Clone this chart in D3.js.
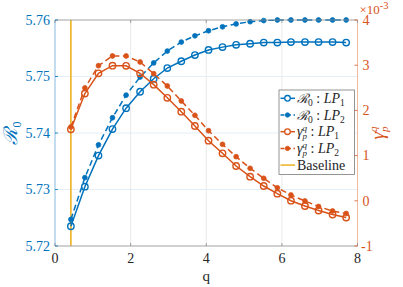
<!DOCTYPE html>
<html><head><meta charset="utf-8">
<script src="https://cdn.jsdelivr.net/npm/d3@7"></script>
<style>html,body{margin:0;padding:0;background:#fff;}svg{display:block;}</style>
</head><body>
<script>
const q = [0.42,0.79,1.15,1.52,1.88,2.25,2.61,2.97,3.34,3.70,4.06,4.43,4.79,5.16,5.52,5.88,6.24,6.61,6.97,7.34,7.70];
const r0LP1 = [5.7235,5.7305,5.7360,5.7407,5.7444,5.7473,5.7496,5.7515,5.7527,5.7538,5.7547,5.7552,5.7556,5.7558,5.7560,5.7560,5.7561,5.7561,5.7561,5.7561,5.7560];
const r0LP2 = [5.7247,5.7321,5.7379,5.7427,5.7467,5.7499,5.7524,5.7545,5.7561,5.7572,5.7581,5.7588,5.7593,5.7597,5.7599,5.7600,5.7600,5.7600,5.7600,5.7600,5.7600];
const gLP1 = [1.582,2.374,2.821,2.989,2.987,2.821,2.569,2.279,1.971,1.655,1.330,1.051,0.770,0.533,0.327,0.157,0.002,-0.115,-0.215,-0.303,-0.369];
const gLP2 = [1.633,2.496,2.989,3.204,3.204,3.071,2.812,2.540,2.208,1.892,1.551,1.250,0.976,0.719,0.498,0.288,0.128,-0.004,-0.126,-0.226,-0.281];
const baselineQ = 0.42;
const xTicks = [0,2,4,6,8];
const yLTicks = [5.72,5.73,5.74,5.75,5.76];
const yRTicks = [-1,0,1,2,3,4];

const W = 403, H = 287;
const BLUE = "#0072BD", ORANGE = "#D95319", YELLOW = "#EDB120", DARK = "#262626";
const FONT = "'Liberation Serif', 'DejaVu Serif', serif";

const x = d3.scaleLinear().domain([0,8]).range([55,357.5]);
const yL = d3.scaleLinear().domain([5.72,5.76]).range([246,20]);
const yR = d3.scaleLinear().domain([-1,4]).range([246,20]);

const svg = d3.select("body").append("svg").attr("width",W).attr("height",H)
  .style("font-family",FONT);

// grid
svg.append("g").selectAll("line").data(xTicks.slice(1,-1)).join("line")
  .attr("x1",d=>x(d)).attr("x2",d=>x(d)).attr("y1",20).attr("y2",246)
  .attr("stroke","#E3E3E3").attr("stroke-width",0.8);
svg.append("g").selectAll("line").data(yLTicks.slice(1,-1)).join("line")
  .attr("x1",55).attr("x2",357.5).attr("y1",d=>yL(d)).attr("y2",d=>yL(d))
  .attr("stroke","#DCEAF4").attr("stroke-width",0.8);

// baseline
svg.append("line").attr("x1",x(baselineQ)).attr("x2",x(baselineQ)).attr("y1",20).attr("y2",246)
  .attr("stroke",YELLOW).attr("stroke-width",1.6);

function series(vals, yS, color, dashed, filled){
  const pts = q.map((d,i)=>[x(d), yS(vals[i])]);
  const g = svg.append("g");
  g.append("path").attr("d", d3.line()(pts)).attr("fill","none")
    .attr("stroke",color).attr("stroke-width",1.5)
    .attr("stroke-dasharray", dashed ? "6,3.5" : null);
  g.selectAll("circle").data(pts).join("circle")
    .attr("cx",d=>d[0]).attr("cy",d=>d[1])
    .attr("r", filled ? 2.4 : 3.2)
    .attr("fill", filled ? color : "none")
    .attr("stroke", color).attr("stroke-width", filled ? 0.8 : 1.4);
}
series(r0LP1, yL, BLUE, false, false);
series(r0LP2, yL, BLUE, true, true);
series(gLP1, yR, ORANGE, false, false);
series(gLP2, yR, ORANGE, true, true);

// axes box
svg.append("line").attr("x1",55).attr("x2",357.5).attr("y1",20).attr("y2",20).attr("stroke","#8a8a8a").attr("stroke-width",0.8);
svg.append("line").attr("x1",55).attr("x2",357.5).attr("y1",246).attr("y2",246).attr("stroke","#8a8a8a").attr("stroke-width",0.8);
svg.append("line").attr("x1",55).attr("x2",55).attr("y1",20).attr("y2",246).attr("stroke",BLUE).attr("stroke-opacity",0.55).attr("stroke-width",0.9);
svg.append("line").attr("x1",357.5).attr("x2",357.5).attr("y1",20).attr("y2",246).attr("stroke",ORANGE).attr("stroke-opacity",0.45).attr("stroke-width",0.9);

// x ticks (bottom + top, inward)
const xt = svg.append("g");
xTicks.forEach(t=>{
  xt.append("line").attr("x1",x(t)).attr("x2",x(t)).attr("y1",246).attr("y2",243).attr("stroke","#8a8a8a").attr("stroke-width",0.8);
  xt.append("line").attr("x1",x(t)).attr("x2",x(t)).attr("y1",20).attr("y2",23).attr("stroke","#8a8a8a").attr("stroke-width",0.8);
  xt.append("text").attr("x",x(t)).attr("y",263).attr("text-anchor","middle")
    .attr("font-size",14).attr("fill",DARK).text(t);
});
svg.append("text").attr("x",x(4)).attr("y",281).attr("text-anchor","middle")
  .attr("font-size",15).attr("fill",DARK).text("q");

// left ticks
const yl = svg.append("g");
yLTicks.forEach(t=>{
  yl.append("line").attr("x1",55).attr("x2",58).attr("y1",yL(t)).attr("y2",yL(t)).attr("stroke",BLUE).attr("stroke-width",0.8);
  yl.append("text").attr("x",50).attr("y",yL(t)+4.8).attr("text-anchor","end")
    .attr("font-size",14).attr("fill",BLUE).text(d3.format(".2f")(t));
});
// right ticks
const yr = svg.append("g");
yRTicks.forEach(t=>{
  yr.append("line").attr("x1",357.5).attr("x2",354.5).attr("y1",yR(t)).attr("y2",yR(t)).attr("stroke",ORANGE).attr("stroke-width",0.8);
  yr.append("text").attr("x", t<0 ? 361 : 362.5).attr("y",yR(t)+4.8).attr("text-anchor","start")
    .attr("font-size",14).attr("fill",ORANGE).text(t<0 ? "-" + Math.abs(t) : t);
});
// exponent
const ex = svg.append("text").attr("x",359.5).attr("y",13.5).attr("font-size",13).attr("fill",ORANGE);
ex.append("tspan").text("×10");
ex.append("tspan").attr("dy",-5).attr("font-size",10.5).text("-3");

// left y label
const ll = svg.append("text").attr("transform","translate(17,133) rotate(-90)")
  .attr("text-anchor","middle").attr("font-size",19).attr("fill",BLUE);
ll.append("tspan").attr("font-family","'DejaVu Serif', serif").attr("font-style","italic").text("ℛ");
ll.append("tspan").attr("dy",4).attr("font-size",12).text("0");

// right y label
const rl = svg.append("text").attr("transform","translate(384,133) rotate(-90)")
  .attr("text-anchor","middle").attr("font-size",19).attr("fill",ORANGE);
rl.append("tspan").attr("font-style","italic").text("γ");
rl.append("tspan").attr("dy",4).attr("font-size",11).attr("font-style","italic").text("p");
rl.append("tspan").attr("dx",-5.5).attr("dy",-11).attr("font-size",11).attr("font-style","italic").text("q");

// legend
const legendItems = [
  {sym:"R", sub:"1", color:BLUE, dashed:false, filled:false},
  {sym:"R", sub:"2", color:BLUE, dashed:true, filled:true},
  {sym:"G", sub:"1", color:ORANGE, dashed:false, filled:false},
  {sym:"G", sub:"2", color:ORANGE, dashed:true, filled:true},
  {sym:"B", color:YELLOW}
];
const lg = svg.append("g");
lg.append("rect").attr("x",279).attr("y",90).attr("width",75.5).attr("height",84.5)
  .attr("fill","#fff").attr("stroke","#7a7a7a").attr("stroke-width",0.8);
legendItems.forEach((it,i)=>{
  const cy = 98.3 + i*16.7;
  const g = lg.append("g");
  g.append("line").attr("x1",280.5).attr("x2",295).attr("y1",cy).attr("y2",cy)
    .attr("stroke",it.color).attr("stroke-width",1.5)
    .attr("stroke-dasharray", it.dashed ? "4,2.5" : null);
  if (it.sym !== "B") {
    g.append("circle").attr("cx",287.5).attr("cy",cy).attr("r", it.filled?2.2:2.8)
      .attr("fill", it.filled?it.color:"#fff").attr("stroke",it.color).attr("stroke-width",it.filled?0.8:1.3);
  }
  const t = g.append("text").attr("x",297).attr("y",cy+4.5).attr("font-size",14).attr("fill",DARK);
  if (it.sym === "B") { t.text("Baseline"); return; }
  if (it.sym === "R") {
    t.append("tspan").attr("font-family","'DejaVu Serif', serif").attr("font-style","italic").attr("font-size",13).text("ℛ");
    t.append("tspan").attr("dy",3).attr("font-size",9.5).text("0");
    t.append("tspan").attr("dy",-3).text(" : ");
  } else {
    t.append("tspan").attr("font-style","italic").text("γ");
    t.append("tspan").attr("dy",3).attr("font-size",9).attr("font-style","italic").text("p");
    t.append("tspan").attr("dx",-4.5).attr("dy",-8).attr("font-size",9).attr("font-style","italic").text("q");
    t.append("tspan").attr("dy",5).text(" : ");
  }
  t.append("tspan").attr("font-style","italic").text("LP");
  t.append("tspan").attr("dy",3).attr("font-size",9.5).text(it.sub);
});
</script>
</body></html>
